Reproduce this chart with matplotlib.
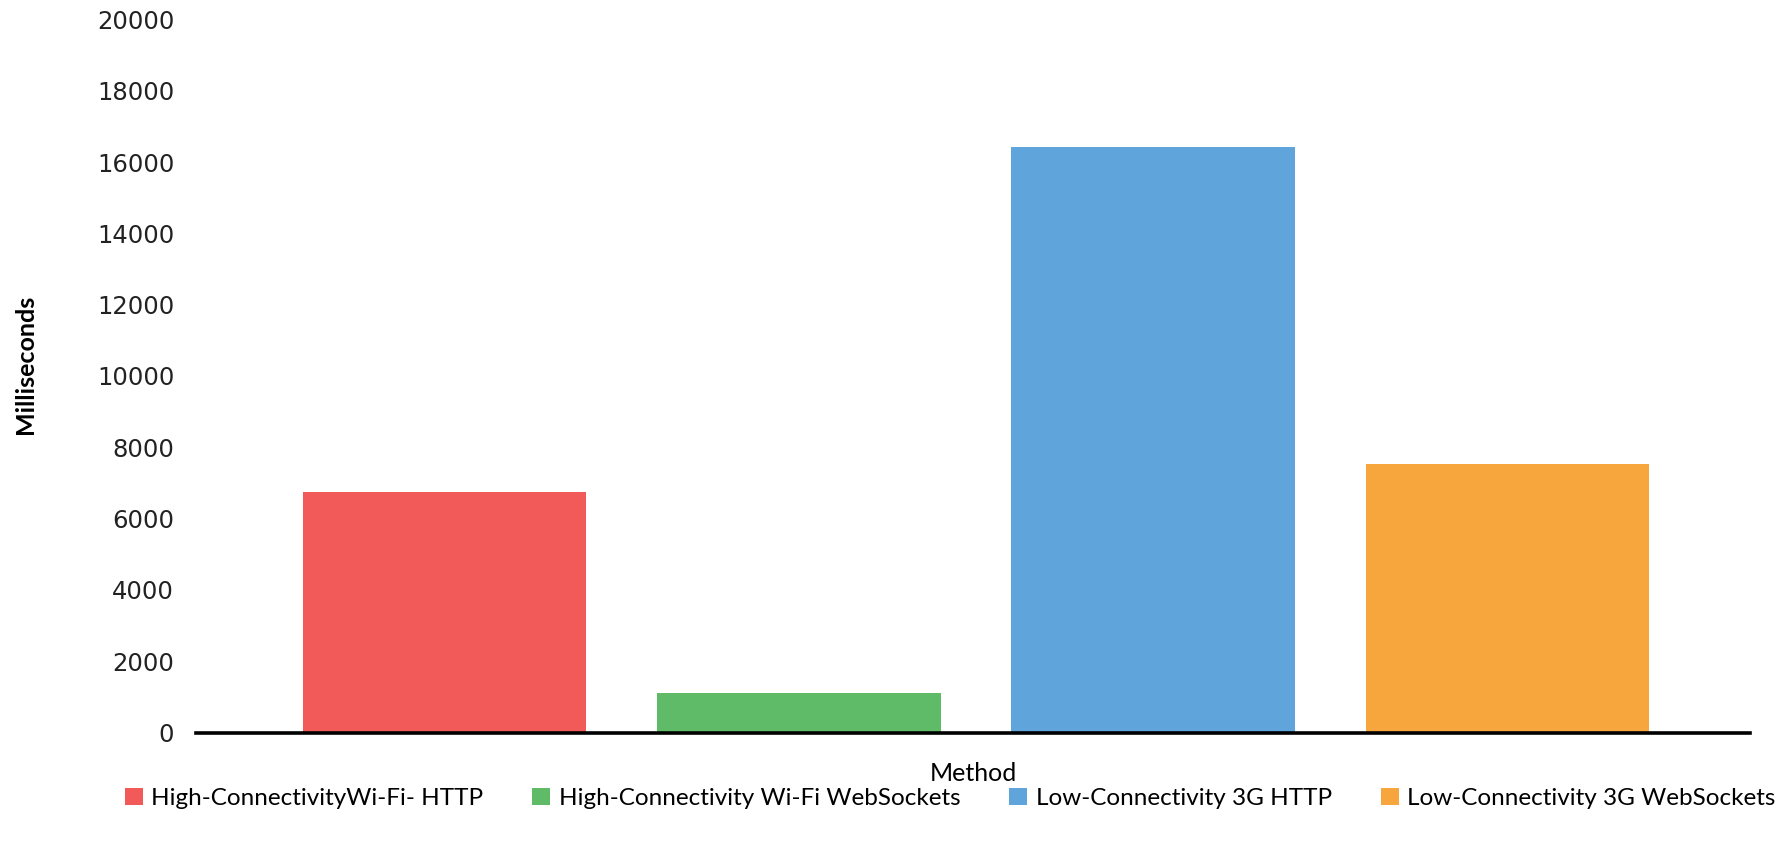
import matplotlib
matplotlib.use("Agg")
import matplotlib.pyplot as plt
from matplotlib.patches import Patch

# response time per method (ms)
methods = ["High-ConnectivityWi-Fi- HTTP",
           "High-Connectivity Wi-Fi WebSockets",
           "Low-Connectivity 3G HTTP",
           "Low-Connectivity 3G WebSockets"]
times_ms = [6740, 1120, 16420, 7525]
colors = ["#F25A5A", "#60BB68", "#5FA4DA", "#F7A63E"]
yticks = [0, 2000, 4000, 6000, 8000, 10000, 12000, 14000, 16000, 18000, 20000]

narrow = ["Lato", "DejaVu Sans"]

fig = plt.figure(figsize=(17.86, 8.43), dpi=100)
ax = fig.add_axes([0.110, 0.131, 0.870, 0.846])

xs = list(range(len(methods)))
ax.bar(xs, times_ms, width=0.8, color=colors)

ax.set_xlim(-0.70, 3.685)
ax.set_ylim(0, 20000)
ax.set_yticks(yticks)
ax.set_yticklabels([str(t) for t in yticks], fontsize=17.5, color="#222222")
ax.set_xticks([])
ax.tick_params(axis="y", length=0, pad=16)

for side in ["top", "right", "left"]:
    ax.spines[side].set_visible(False)
ax.spines["bottom"].set_linewidth(2.6)
ax.spines["bottom"].set_color("black")

ax.set_xlabel("Method", fontsize=18, family=narrow, labelpad=21)
fig.text(0.014, 0.568, "Milliseconds", rotation=90, fontsize=18,
         fontweight="bold", family=narrow, ha="center", va="center")

handles = [Patch(facecolor=c, edgecolor="none") for c in colors]
fig.legend(handles, methods, loc="center", bbox_to_anchor=(0.532, 0.053),
           ncol=4, frameon=False, prop={"family": narrow, "size": 17.5},
           handlelength=0.75, handleheight=0.75, handletextpad=0.35,
           columnspacing=2.0)

fig.savefig("out.png", dpi=100)
